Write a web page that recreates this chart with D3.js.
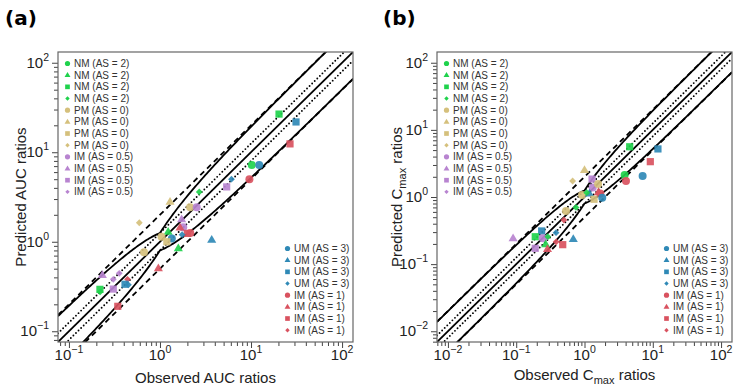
<!DOCTYPE html>
<html>
<head>
<meta charset="utf-8">
<script src="https://cdn.jsdelivr.net/npm/d3@7"></script>
<style>
  body { margin: 0; background: #fff; }
  svg { font-family: "Liberation Sans", Arial, sans-serif; }
</style>
</head>
<body>
<svg id="chart" width="744" height="390"></svg>
<script>
var groupNames = ['NM (AS = 2)', 'PM (AS = 0)', 'IM (AS = 0.5)', 'UM (AS = 3)', 'IM (AS = 1)'];
var groupColors = ['#1fd24c', '#d5c07c', '#b884d0', '#2f89b6', '#d9525f'];
var shapes = ['circle', 'triangle', 'square', 'diamond'];
var legendTopGroups = [0, 1, 2];
var legendBottomGroups = [3, 4];

// [group, shape, observed, predicted]
var aucPoints = [
  [0,2,20.3,26.7], [3,2,31.2,21.8], [4,2,26.8,12.4], [0,0,10.2,7.2],
  [3,0,12.3,7.2], [4,0,9.6,5.0], [2,2,5.4,4.1], [3,3,6.1,5.0],
  [0,3,2.7,3.6], [1,1,1.29,2.8], [1,0,2.14,2.43], [2,0,2.53,2.43],
  [1,3,0.593,1.63], [2,1,1.73,1.78], [2,0,1.80,1.45], [4,1,1.66,1.44],
  [4,2,2.0,1.24], [4,0,2.15,1.25], [3,1,3.7,1.05], [0,1,1.23,1.29],
  [1,0,1.04,1.14], [3,3,1.75,1.2], [3,0,1.35,1.09], [1,2,1.19,1.0],
  [0,1,1.59,0.845], [1,0,0.668,0.762], [4,1,0.96,0.505], [2,1,0.233,0.425],
  [2,3,0.357,0.444], [2,3,0.307,0.38], [4,3,0.44,0.38], [3,2,0.413,0.335],
  [3,3,0.45,0.33], [0,3,0.22,0.275], [0,2,0.219,0.294], [2,2,0.307,0.296],
  [4,2,0.344,0.19]
];

var cmaxPoints = [
  [0,2,4.59,5.6], [3,2,11.9,5.2], [4,2,9.2,3.36], [0,0,3.87,2.13],
  [3,0,7.1,2.05], [4,0,4.05,1.73], [1,1,1.0,2.52], [1,3,0.67,1.73],
  [2,2,1.29,1.85], [2,0,1.32,1.39], [1,0,1.58,1.56], [4,1,1.6,1.18],
  [1,0,0.92,1.07], [3,1,1.18,1.13], [4,0,1.70,1.13], [0,3,1.08,1.16],
  [1,2,1.38,0.925], [3,0,1.82,0.975], [1,0,0.536,0.618], [0,3,0.75,0.70],
  [4,3,0.50,0.454], [3,2,0.236,0.312], [3,3,0.383,0.294], [3,1,0.685,0.237],
  [2,1,0.09,0.243], [0,2,0.19,0.256], [2,0,0.245,0.243], [2,3,0.28,0.25],
  [0,3,0.29,0.256], [2,2,0.19,0.172], [0,1,0.27,0.198], [4,1,0.287,0.168],
  [4,3,0.385,0.215], [4,2,0.48,0.195]
];

var aucMajors = [-1, 0, 1, 2];
var cmaxMajors = [-2, -1, 0, 1, 2];

var foldDashed = 2;
var foldDotted = 1.25;
var guestDelta = 1.25;

var svg = d3.select('#chart');

function shapePath(shape, r) {
  if (shape === 'circle') return d3.symbol(d3.symbolCircle, Math.PI * r * r)();
  if (shape === 'square') { var h = r * 0.9; return 'M' + (-h) + ',' + (-h) + 'H' + h + 'V' + h + 'H' + (-h) + 'Z'; }
  if (shape === 'triangle') {
    var s = r * 1.2;
    return 'M0,' + (-s) + 'L' + (s * 0.95) + ',' + (s * 0.62) + 'L' + (-s * 0.95) + ',' + (s * 0.62) + 'Z';
  }
  var d = r * 0.85;
  return 'M0,' + (-d) + 'L' + d + ',0L0,' + d + 'L' + (-d) + ',0Z';
}

function guestLimit(obs, upper) {
  var R = obs >= 1 ? obs : 1 / obs;
  var lim = (guestDelta + 2 * (R - 1)) / R;
  return upper ? obs * lim : obs / lim;
}

function superLabel(sel, exp, size) {
  sel.append('tspan').text('10');
  sel.append('tspan')
    .attr('dy', -size * 0.48)
    .style('font-size', (size * 0.7) + 'px')
    .text(exp < 0 ? '\u2212' + Math.abs(exp) : String(exp));
}

function drawPanel(p) {
  var g = svg.append('g');
  var x = d3.scaleLog().domain(p.domain).range([p.left, p.left + p.width]);
  var y = d3.scaleLog().domain(p.domain).range([p.top + p.height, p.top]);

  var clipId = 'clip' + p.id;
  g.append('clipPath').attr('id', clipId)
    .append('rect')
    .attr('x', p.left).attr('y', p.top).attr('width', p.width).attr('height', p.height);

  // minor + major ticks
  var lo = Math.floor(Math.log10(p.domain[0])), hi = Math.ceil(Math.log10(p.domain[1]));
  var minors = [];
  for (var e = lo; e <= hi; e++) {
    for (var k = 2; k <= 9; k++) {
      var v = k * Math.pow(10, e);
      if (v >= p.domain[0] && v <= p.domain[1]) minors.push(v);
    }
  }
  var majors = p.majors.map(function (e) { return Math.pow(10, e); });

  var axB = g.append('g').attr('transform', 'translate(0,' + (p.top + p.height) + ')');
  axB.call(d3.axisBottom(x).tickValues(minors).tickFormat('').tickSize(4).tickSizeOuter(0));
  axB.append('g').call(d3.axisBottom(x).tickValues(majors).tickFormat('').tickSize(6).tickSizeOuter(0));
  var axL = g.append('g').attr('transform', 'translate(' + p.left + ',0)');
  axL.call(d3.axisLeft(y).tickValues(minors).tickFormat('').tickSize(4).tickSizeOuter(0));
  axL.append('g').call(d3.axisLeft(y).tickValues(majors).tickFormat('').tickSize(6).tickSizeOuter(0));
  g.selectAll('.domain').remove();
  g.selectAll('.tick line').attr('stroke', '#444');

  // tick labels
  p.majors.forEach(function (e) {
    var v = Math.pow(10, e);
    var tx = g.append('text')
      .attr('x', x(v)).attr('y', p.top + p.height + 18)
      .attr('text-anchor', 'middle')
      .style('font-size', '15px').attr('fill', '#222');
    superLabel(tx, e, 15);
    var ty = g.append('text')
      .attr('x', p.left - 9).attr('y', y(v) + 5)
      .attr('text-anchor', 'end')
      .style('font-size', '15px').attr('fill', '#222');
    superLabel(ty, e, 15);
  });

  // reference lines
  var lines = g.append('g').attr('clip-path', 'url(#' + clipId + ')');
  var lx = p.domain;
  var seg = function (f) {
    return d3.line().x(function (v) { return x(v); }).y(function (v) { return y(v * f); })(lx);
  };
  lines.append('path').attr('d', seg(1)).attr('stroke', '#000').attr('stroke-width', 1.8).attr('fill', 'none');
  [foldDashed, 1 / foldDashed].forEach(function (f) {
    lines.append('path').attr('d', seg(f)).attr('stroke', '#000').attr('stroke-width', 1.8)
      .attr('stroke-dasharray', '5.5,4').attr('fill', 'none');
  });
  [foldDotted, 1 / foldDotted].forEach(function (f) {
    lines.append('path').attr('d', seg(f)).attr('stroke', '#000').attr('stroke-width', 1.9)
      .attr('stroke-linecap', 'round')
      .attr('stroke-dasharray', '0,3.6').attr('fill', 'none');
  });
  var logLo = Math.log10(p.domain[0]), logHi = Math.log10(p.domain[1]);
  var samples = d3.range(0, 201).map(function (i) { return Math.pow(10, logLo + (logHi - logLo) * i / 200); });
  samples.push(1);
  samples.sort(d3.ascending);
  [true, false].forEach(function (up) {
    lines.append('path')
      .attr('d', d3.line().x(function (v) { return x(v); }).y(function (v) { return y(guestLimit(v, up)); })(samples))
      .attr('stroke', '#000').attr('stroke-width', 1.8).attr('fill', 'none');
  });

  // points
  g.append('g').selectAll('path.pt')
    .data(p.points)
    .enter().append('path')
    .attr('class', 'pt')
    .attr('transform', function (d) { return 'translate(' + x(d[2]) + ',' + y(d[3]) + ')'; })
    .attr('d', function (d) { return shapePath(shapes[d[1]], 4); })
    .attr('fill', function (d) { return groupColors[d[0]]; })
    .attr('fill-opacity', 0.92);

  // box
  g.append('rect')
    .attr('x', p.left).attr('y', p.top).attr('width', p.width).attr('height', p.height)
    .attr('fill', 'none').attr('stroke', '#666').attr('stroke-width', 1.2);

  // legends
  function legend(groupsList, mx, y0) {
    var rows = [];
    groupsList.forEach(function (gi) { shapes.forEach(function (s) { rows.push([gi, s]); }); });
    var lg = g.append('g');
    rows.forEach(function (r, i) {
      var yy = y0 + i * 11.67;
      lg.append('path')
        .attr('transform', 'translate(' + mx + ',' + yy + ')')
        .attr('d', shapePath(r[1], 2.6))
        .attr('fill', groupColors[r[0]]);
      lg.append('text')
        .attr('x', mx + 6.5).attr('y', yy + 3.6)
        .style('font-size', '10px').attr('fill', '#333')
        .text(groupNames[r[0]]);
    });
  }
  legend(legendTopGroups, p.left + 9.5, 63.5);
  legend(legendBottomGroups, p.legendRightX, 248.5);

  // titles
  var xt = g.append('text')
    .attr('x', p.left + p.width / 2).attr('y', p.xTitleY)
    .attr('text-anchor', 'middle').style('font-size', '15px').attr('fill', '#222');
  var yt = g.append('text')
    .attr('transform', 'translate(' + p.yTitleX + ',' + (p.top + p.height / 2) + ') rotate(-90)')
    .attr('text-anchor', 'middle').style('font-size', '15px').attr('fill', '#222');
  [[xt, 'Observed '], [yt, 'Predicted ']].forEach(function (pair) {
    var t = pair[0];
    t.append('tspan').text(pair[1] + p.measure[0]);
    if (p.measure[1]) {
      t.append('tspan').attr('dy', 4).style('font-size', '11px').text(p.measure[1]);
      t.append('tspan').attr('dy', -4).text(' ratios');
    } else {
      t.append('tspan').text(' ratios');
    }
  });

  svg.append('text')
    .attr('x', p.labelX).attr('y', 25)
    .style('font-size', '20px').style('font-weight', 'bold')
    .style('font-family', '"DejaVu Sans", sans-serif')
    .text(p.label);
}

drawPanel({
  id: 'a', left: 58, top: 52, width: 295, height: 290,
  domain: [Math.pow(10, -1.12), Math.pow(10, 2.12)],
  majors: aucMajors, points: aucPoints,
  measure: ['AUC', null], label: '(a)', labelX: 5,
  legendRightX: 287.5, xTitleY: 383, yTitleX: 26
});

drawPanel({
  id: 'b', left: 437, top: 52, width: 295, height: 290,
  domain: [Math.pow(10, -2.16), Math.pow(10, 2.16)],
  majors: cmaxMajors, points: cmaxPoints,
  measure: ['C', 'max'], label: '(b)', labelX: 383,
  legendRightX: 666.5, xTitleY: 380, yTitleX: 402
});
</script>
</body>
</html>
